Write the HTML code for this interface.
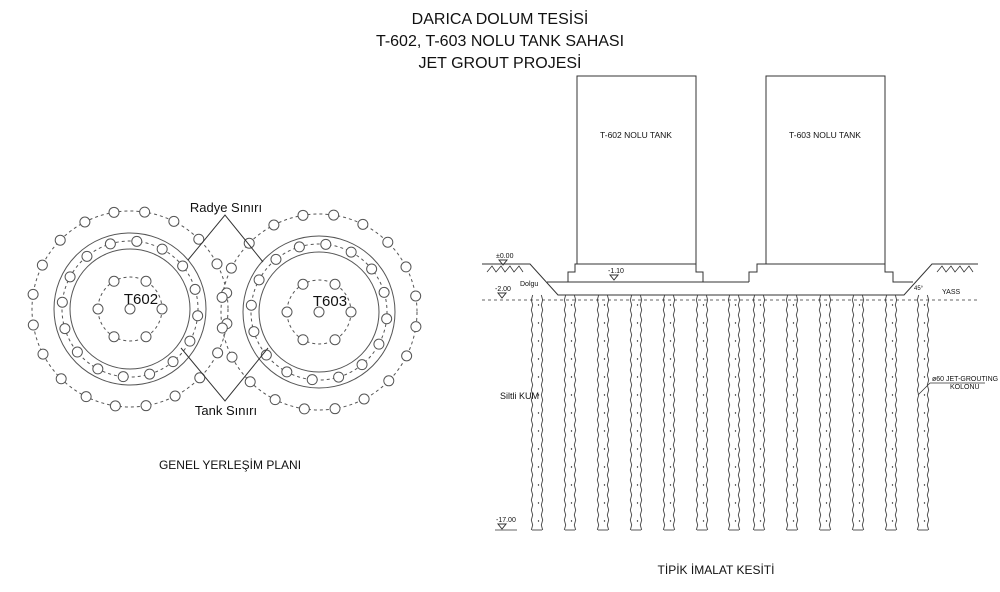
<!DOCTYPE html>
<html><head><meta charset="utf-8"><style>
html,body{margin:0;padding:0;background:#fff;width:1000px;height:592px;overflow:hidden}
svg{display:block;font-family:"Liberation Sans",Arial,sans-serif}
</style></head><body>
<svg id="s" width="1000" height="592" viewBox="0 0 1000 592" xmlns="http://www.w3.org/2000/svg">
<g font-size="16" text-anchor="middle" fill="#111">
<text x="500" y="24">DARICA DOLUM TESİSİ</text>
<text x="500" y="46">T-602, T-603 NOLU  TANK SAHASI</text>
<text x="500" y="68">JET GROUT PROJESİ</text>
</g>
<g id="plan" fill="none" stroke="#555" stroke-width="1"></g>
<g font-size="15" text-anchor="middle" fill="#111">
<text x="141" y="304">T602</text>
<text x="330" y="306">T603</text>
<text x="226" y="212" font-size="13">Radye Sınırı</text>
<text x="226" y="415" font-size="13">Tank Sınırı</text>
<text x="230" y="469" font-size="12">GENEL YERLEŞİM PLANI</text>
<text x="716" y="574" font-size="12">TİPİK İMALAT KESİTİ</text>
<text x="636" y="138" font-size="8.5">T-602 NOLU TANK</text>
<text x="825" y="138" font-size="8.5">T-603 NOLU TANK</text>
</g>
<g fill="none" stroke="#333" stroke-width="1">
<polyline points="188,260 225,215 263,262"/>
<polyline points="181,348 225,401 268,348"/>
<rect x="577" y="76" width="119" height="188"/>
<rect x="766" y="76" width="119" height="188"/>
<polyline points="482,264 530,264 558,295 904,295 932,264 978,264"/>
<polyline points="547,282 568,282 568,272 575,272 575,264 696,264 696,272 703,272 703,282 713,282"/>
<polyline points="749,282 749,272 757,272 757,264 885,264 885,272 893,272 893,282 913,282"/>
<line x1="547" y1="282" x2="749" y2="282"/>
<line x1="893" y1="282" x2="913" y2="282"/>
<line x1="482" y1="300" x2="980" y2="300" stroke-dasharray="3,3" stroke="#666"/>
<polyline points="487,272 492,266 496,272 501,266 505,272 510,266 514,272 519,266 523,272" stroke-width="0.8"/>
<polyline points="937,272 942,266 946,272 951,266 955,272 960,266 964,272 969,266 973,272" stroke-width="0.8"/>
<line x1="918" y1="395" x2="930" y2="383" stroke-width="0.8"/>
<line x1="930" y1="383" x2="985" y2="383" stroke-width="0.8"/>
<line x1="495" y1="530" x2="517" y2="530" stroke-width="0.8"/>
</g>
<g id="cols" fill="none" stroke="#444" stroke-width="0.9"></g>
<g font-size="7" fill="#111">
<text x="496" y="258">±0.00</text>
<path d="M499,260 l4,5 l4,-5 z" fill="none" stroke="#333"/>
<text x="495" y="291">-2.00</text>
<path d="M498,293 l4,5 l4,-5 z" fill="none" stroke="#333"/>
<text x="520" y="286">Dolgu</text>
<text x="608" y="273">-1.10</text>
<path d="M610,275 l4,5 l4,-5 z" fill="none" stroke="#333"/>
<text x="942" y="294">YASS</text>
<text x="914" y="290" font-size="6">45°</text>
<text x="496" y="522">-17.00</text>
<path d="M498,524 l4,5 l4,-5 z" fill="none" stroke="#333"/>
<text x="500" y="399" font-size="9">Siltli KUM</text>
<text x="932" y="381">ø60 JET-GROUTING</text>
<text x="950" y="389">KOLONU</text>
</g>
</svg>
<script>
var NS="http://www.w3.org/2000/svg";
function el(p,t,a){var e=document.createElementNS(NS,t);for(var k in a)e.setAttribute(k,a[k]);p.appendChild(e);return e;}
var g=document.getElementById('plan');
function tank(cx,cy){
 el(g,'circle',{cx:cx,cy:cy,r:98,'stroke-dasharray':'3,3'});
 el(g,'circle',{cx:cx,cy:cy,r:76});
 el(g,'circle',{cx:cx,cy:cy,r:60});
 el(g,'circle',{cx:cx,cy:cy,r:68,'stroke-dasharray':'3,3'});
 el(g,'circle',{cx:cx,cy:cy,r:32,'stroke-dasharray':'3,3'});
 el(g,'circle',{cx:cx,cy:cy,r:5,fill:'#fff'});
 var i,a;
 for(i=0;i<20;i++){a=i*Math.PI*2/20+0.15;el(g,'circle',{cx:cx+98*Math.cos(a),cy:cy+98*Math.sin(a),r:5,fill:'#fff'});}
 for(i=0;i<16;i++){a=i*Math.PI*2/16+0.1;el(g,'circle',{cx:cx+68*Math.cos(a),cy:cy+68*Math.sin(a),r:5,fill:'#fff'});}
 for(i=0;i<6;i++){a=i*Math.PI/3;el(g,'circle',{cx:cx+32*Math.cos(a),cy:cy+32*Math.sin(a),r:5,fill:'#fff'});}
}
tank(130,309);tank(319,312);
var c=document.getElementById('cols');
[537,570,603,636,669,702,734,759,792,825,858,891,923].forEach(function(x){
 var l='',r='';
 for(var y=295;y<=530;y+=5){var o=(y%10?1:-1);l+=(x-5+o*0.7)+','+y+' ';r+=(x+5-o*0.7)+','+y+' ';}
 el(c,'polyline',{points:l});el(c,'polyline',{points:r});
 el(c,'line',{x1:x-5,y1:530,x2:x+5,y2:530});
 for(var y2=305;y2<528;y2+=18){el(c,'circle',{cx:x+((y2/18)%2?1.5:-1),cy:y2,r:0.7,fill:'#222',stroke:'none'});}
});
</script>
</body></html>
